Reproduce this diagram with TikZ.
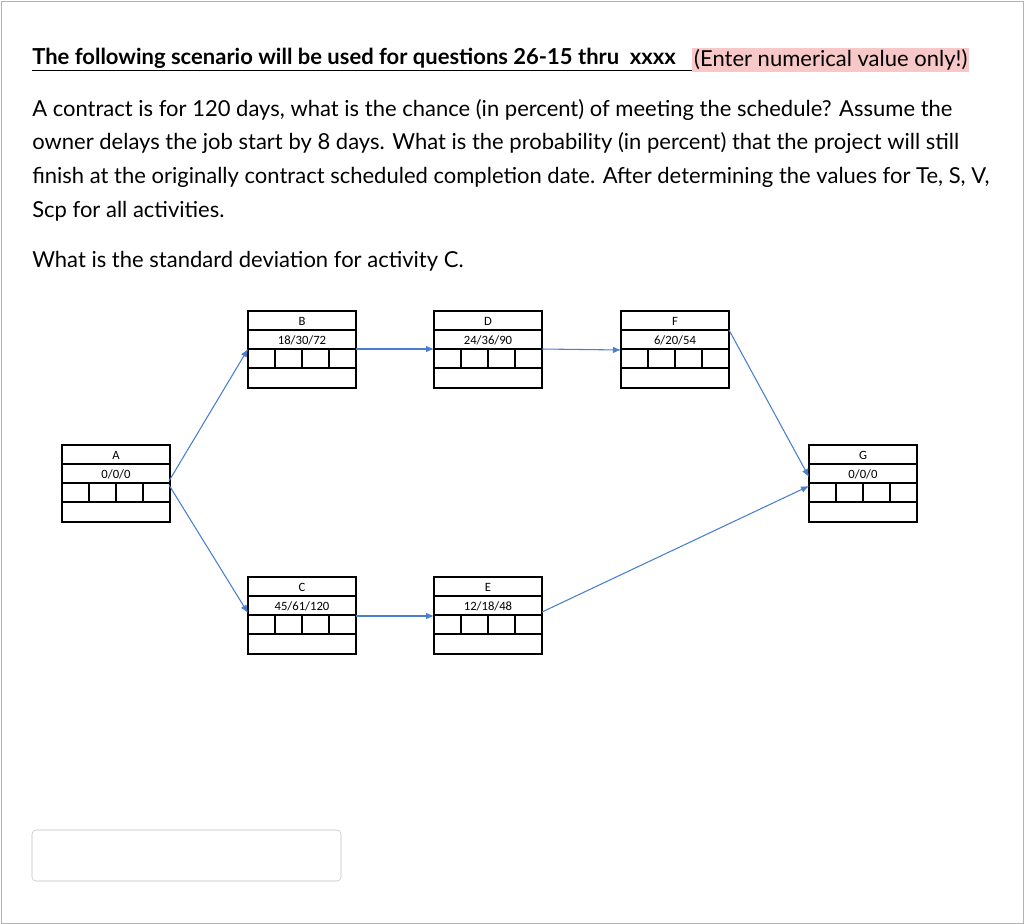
\documentclass[tikz,border=0pt]{standalone}
\usepackage{fontspec}
\setmainfont{Lato}
\newfontfamily\calfont{Carlito}
\usetikzlibrary{arrows.meta,calc}
\definecolor{pinkhl}{HTML}{F8C8C8}
\definecolor{arr}{HTML}{4A7FD0}
\begin{document}
\begin{tikzpicture}[x=0.75pt,y=-0.75pt,
  txt/.style={anchor=west,inner sep=0pt,font=\fontsize{16.5}{18}\selectfont},
  conn/.style={draw=arr,line width=0.8pt,-{Latex[length=6pt,width=5pt]}}]
\useasboundingbox (0,0) rectangle (1024,924);
\draw[gray!60] (1,1) rectangle (1023,923);
% texts
\node[txt,font=\fontsize{16.5}{18}\selectfont\bfseries] (h) at (32,60) {\underline{The following scenario will be used for questions 26-15 thru \ xxxx\ \ \ }};
\node[txt,fill=pinkhl,inner sep=1.5pt,anchor=west] (hl) at (h.east) {(Enter numerical value only!)};
\node[txt] (l1) at (32,110) {A contract is for 120 days, what is the chance (in percent) of meeting the schedule? Assume the};
\node[txt] (l2) at (32,143) {owner delays the job start by 8 days. What is the probability (in percent) that the project will still};
\node[txt] (l3) at (32,177) {finish at the originally contract scheduled completion date. After determining the values for Te, S, V,};
\node[txt] (l4) at (32,211) {Scp for all activities.};
\node[txt] (l5) at (32,261) {What is the standard deviation for activity C.};
% activity boxes
\newcommand{\actbox}[5]{%
  \begin{scope}[shift={(#1,#2)}]
  \draw[line width=0.8pt] (0,19)--(108,19) (0,38)--(108,38) (0,57)--(108,57);
  \foreach \xx in {27,54,81} \draw[line width=0.8pt] (\xx,38)--(\xx,57);
  \draw[line width=2pt] (0,0) rectangle (108,77);
  \node[font=\calfont\fontsize{9.5}{10}\selectfont,inner sep=0pt] at (54,10) {#4};
  \node[font=\calfont\fontsize{9.5}{10}\selectfont,inner sep=0pt] at (54,29) {#5};
  \coordinate (#3) at (0,0);
  \end{scope}}
\actbox{248}{311}{B}{B}{18/30/72}
\actbox{434}{311}{D}{D}{24/36/90}
\actbox{621}{311}{F}{F}{6/20/54}
\actbox{62}{445}{A}{A}{0/0/0}
\actbox{809}{445}{G}{G}{0/0/0}
\actbox{248}{577}{C}{C}{45/61/120}
\actbox{434}{577}{E}{E}{12/18/48}
\draw[conn] ($(A)+(107,36)$) -- ($(B)+(0,38)$);
\draw[conn] ($(A)+(107,40)$) -- ($(C)+(0,36)$);
\draw[conn] ($(B)+(108,38)$) -- ($(D)+(0,38)$);
\draw[conn] ($(D)+(108,38)$) -- ($(F)+(0,39)$);
\draw[conn] ($(C)+(108,39)$) -- ($(E)+(0,39)$);
\draw[conn] ($(F)+(108,19)$) -- ($(G)+(0,32)$);
\draw[conn] ($(E)+(108,35)$) -- ($(G)+(0,41)$);
% answer box
\draw[gray!50,rounded corners=3pt] (32,830) rectangle (341,881);
\end{tikzpicture}
\end{document}
